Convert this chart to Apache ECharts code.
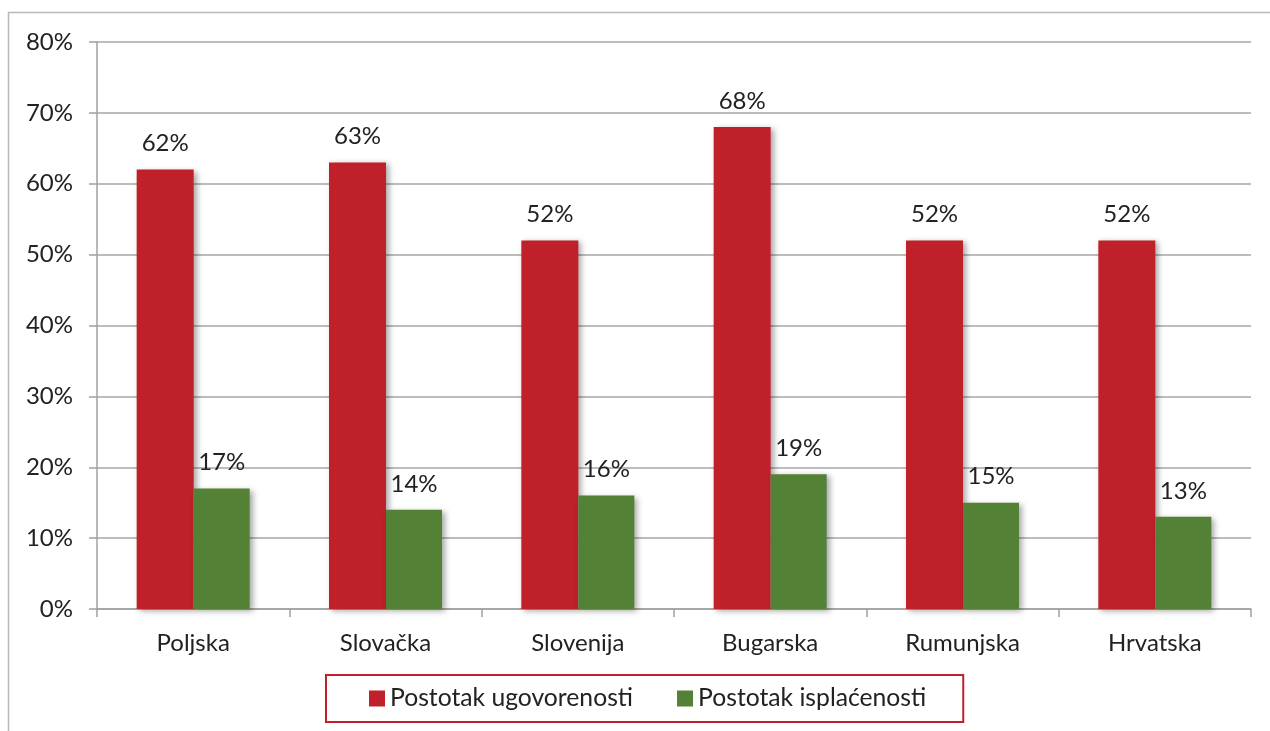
<!DOCTYPE html>
<html>
<head>
<meta charset="utf-8">
<script src="https://cdn.jsdelivr.net/npm/echarts@6/dist/echarts.min.js"></script>
<style>
  html, body { margin: 0; padding: 0; background: #fff; }
  #chart { width: 1270px; height: 731px; }
</style>
</head>
<body>
<div id="chart"></div>
<script>
const categories = ['Poljska', 'Slovačka', 'Slovenija', 'Bugarska', 'Rumunjska', 'Hrvatska']
const ugovorenost = [62, 63, 52, 68, 52, 52]
const isplacenost = [17, 14, 16, 19, 15, 13]

const fontFamily = 'Lato, "Open Sans", sans-serif'
const textColor = '#222'

const chart = echarts.init(document.getElementById('chart'))

const barShadow = {
  shadowBlur: 6,
  shadowOffsetX: 3,
  shadowOffsetY: 2,
  shadowColor: 'rgba(0,0,0,0.35)'
}

chart.setOption({
  animation: false,
  textStyle: { fontFamily: fontFamily },
  graphic: [{
    type: 'rect',
    shape: { x: 8.5, y: 12.5, width: 1300, height: 800 },
    style: { fill: 'none', stroke: '#b8b8b8', lineWidth: 1.5 },
    silent: true
  }],
  grid: {
    left: 97,
    right: 19,
    top: 42,
    bottom: 122
  },
  legend: {
    bottom: 9,
    left: 326,
    icon: 'rect',
    itemWidth: 16,
    itemHeight: 16,
    itemGap: 44,
    padding: [11, 37, 11, 43],
    borderColor: '#c0202a',
    borderWidth: 2,
    textStyle: { fontSize: 24.7, color: textColor, fontFamily: fontFamily },
    data: ['Postotak ugovorenosti', 'Postotak isplaćenosti']
  },
  xAxis: {
    type: 'category',
    data: categories,
    axisLine: { lineStyle: { color: '#a0a0a0', width: 1.5 } },
    axisTick: { show: true, length: 8, lineStyle: { color: '#a0a0a0', width: 1.5 } },
    axisLabel: { fontSize: 24, color: textColor, margin: 22 }
  },
  yAxis: {
    type: 'value',
    min: 0,
    max: 80,
    interval: 10,
    axisLine: { show: true, lineStyle: { color: '#a0a0a0', width: 1.5 } },
    axisTick: { show: true, length: 8, lineStyle: { color: '#a0a0a0', width: 1.5 } },
    splitLine: { lineStyle: { color: '#a6a6a6', width: 1.5 } },
    axisLabel: {
      fontSize: 24,
      color: textColor,
      margin: 24,
      formatter: '{value}%'
    }
  },
  series: [{
    name: 'Postotak ugovorenosti',
    type: 'bar',
    data: ugovorenost,
    barWidth: 57,
    barGap: '0%',
    itemStyle: Object.assign({ color: '#c0202a' }, barShadow),
    label: {
      show: true,
      position: 'top',
      distance: 14,
      fontSize: 24,
      color: textColor,
      formatter: '{c}%'
    }
  }, {
    name: 'Postotak isplaćenosti',
    type: 'bar',
    data: isplacenost,
    barWidth: 56,
    barGap: '0%',
    itemStyle: Object.assign({ color: '#538135' }, barShadow),
    label: {
      show: true,
      position: 'top',
      distance: 14,
      fontSize: 24,
      color: textColor,
      formatter: '{c}%'
    }
  }]
})
</script>
</body>
</html>
